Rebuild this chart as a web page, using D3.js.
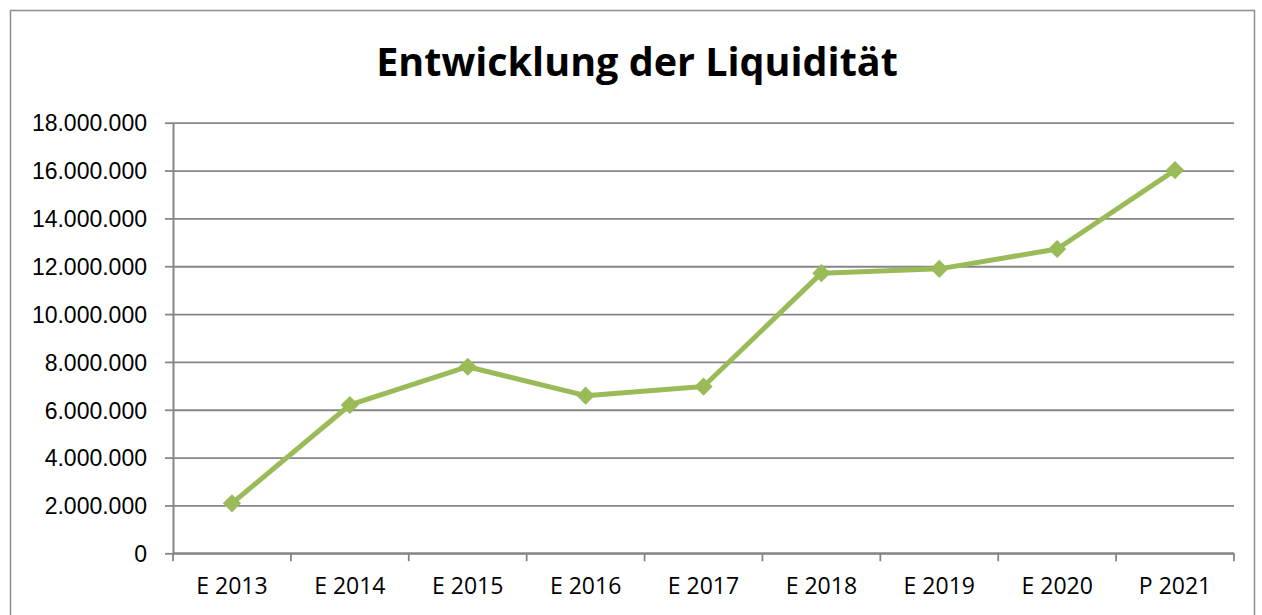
<!DOCTYPE html>
<html>
<head>
<meta charset="utf-8">
<script src="https://cdn.jsdelivr.net/npm/d3@7"></script>
<style>
  body { margin: 0; background: #fff; }
  svg { display: block; font-family: "Open Sans", Lato, sans-serif; }
</style>
</head>
<body>
<div id="chart"></div>
<script>
// chart data
const categories = ["E 2013", "E 2014", "E 2015", "E 2016", "E 2017", "E 2018", "E 2019", "E 2020", "P 2021"];
const liquiditaet = [2090000, 6200000, 7800000, 6590000, 6970000, 11710000, 11890000, 12720000, 16020000];
const yTicks = [0, 2000000, 4000000, 6000000, 8000000, 10000000, 12000000, 14000000, 16000000, 18000000];
const title = "Entwicklung der Liquidität";

const width = 1262, height = 615;
const margin = {top: 122.7, right: 28, bottom: 61.7, left: 173};

const svg = d3.select("#chart")
  .append("svg")
  .attr("width", width)
  .attr("height", height);

// outer chart border
svg.append("rect")
  .attr("x", 10.5).attr("y", 10.5)
  .attr("width", 1244).attr("height", 640)
  .attr("fill", "none")
  .attr("stroke", "#8e8e8e")
  .attr("stroke-width", 1.5);

svg.append("text")
  .attr("x", 637).attr("y", 76)
  .attr("text-anchor", "middle")
  .style("font-size", "39.5px")
  .style("font-weight", "bold")
  .text(title);

const x = d3.scaleBand()
  .domain(categories)
  .range([margin.left, width - margin.right]);

const y = d3.scaleLinear()
  .domain([0, 18000000])
  .range([height - margin.bottom, margin.top]);

// german number format: 18.000.000
const fmt = d3.formatLocale({decimal: ",", thousands: ".", grouping: [3], currency: ["", " €"]}).format(",d");

// gridlines + y axis
const yAxis = svg.append("g")
  .attr("transform", "translate(" + margin.left + ",0)")
  .call(d3.axisLeft(y).tickValues(yTicks).tickFormat(fmt).tickSize(8).tickSizeOuter(0));

yAxis.selectAll(".tick line").clone()
  .attr("x2", width - margin.right - margin.left)
  .attr("stroke", "#868686");

yAxis.select(".domain").attr("stroke", "#868686").attr("stroke-width", 2);
yAxis.selectAll(".tick line").attr("stroke", "#868686").attr("stroke-width", 1.8);
yAxis.selectAll(".tick text")
  .attr("x", -26)
  .attr("dy", "0.36em")
  .style("font-size", "23px")
  .attr("fill", "#000");

// x axis with ticks at band edges
const xAxis = svg.append("g")
  .attr("transform", "translate(0," + y(0) + ")");

xAxis.append("line")
  .attr("x1", margin.left).attr("x2", width - margin.right)
  .attr("stroke", "#868686").attr("stroke-width", 2);

const edges = categories.map(c => x(c)).concat([x(categories[categories.length - 1]) + x.bandwidth()]);
xAxis.selectAll(".edge")
  .data(edges)
  .join("line")
  .attr("class", "edge")
  .attr("x1", d => d).attr("x2", d => d)
  .attr("y1", 0).attr("y2", 8)
  .attr("stroke", "#868686").attr("stroke-width", 1.8);

xAxis.selectAll(".lbl")
  .data(categories)
  .join("text")
  .attr("class", "lbl")
  .attr("x", d => x(d) + x.bandwidth() / 2)
  .attr("y", 41)
  .attr("text-anchor", "middle")
  .style("font-size", "23px")
  .text(d => d);

// series line
const line = d3.line()
  .x((d, i) => x(categories[i]) + x.bandwidth() / 2)
  .y(d => y(d));

svg.append("path")
  .datum(liquiditaet)
  .attr("d", line)
  .attr("fill", "none")
  .attr("stroke", "#9bbb59")
  .attr("stroke-width", 5)
  .attr("stroke-linejoin", "round");

svg.selectAll(".marker")
  .data(liquiditaet)
  .join("path")
  .attr("class", "marker")
  .attr("d", d3.symbol().type(d3.symbolDiamond2).size(210))
  .attr("transform", (d, i) => "translate(" + (x(categories[i]) + x.bandwidth() / 2) + "," + y(d) + ")")
  .attr("fill", "#9bbb59");
</script>
</body>
</html>
